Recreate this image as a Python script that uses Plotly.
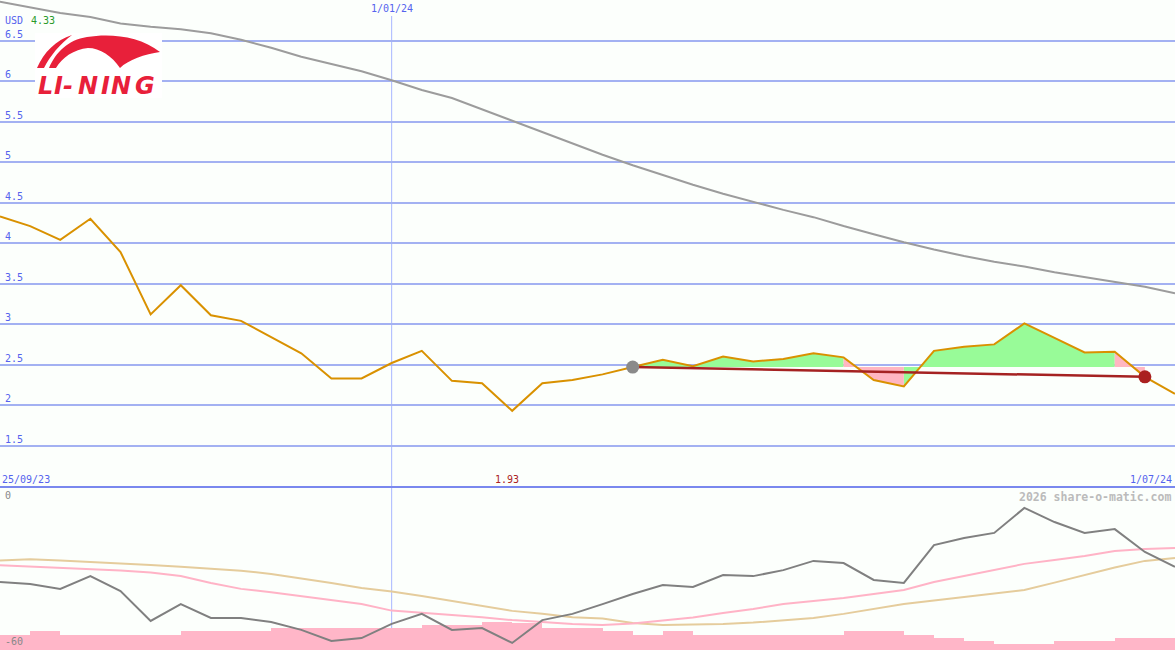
import plotly.graph_objects as go
import pandas as pd

# ---------------- data ----------------
dates = pd.date_range("2023-10-02", periods=40, freq="7D")

price = [4.33, 4.21, 4.04, 4.30, 3.89, 3.12, 3.48, 3.11, 3.04, 2.84,
         2.64, 2.33, 2.33, 2.52, 2.67, 2.30, 2.27, 1.93, 2.27, 2.31,
         2.38, 2.47, 2.56, 2.48, 2.60, 2.54, 2.57, 2.64, 2.59, 2.31,
         2.23, 2.67, 2.72, 2.75, 3.01, 2.83, 2.65, 2.66, 2.35, 2.14]

ma_long = [6.98, 6.91, 6.84, 6.79, 6.71, 6.67, 6.64, 6.59, 6.51, 6.41,
           6.30, 6.21, 6.12, 6.01, 5.89, 5.79, 5.65, 5.51, 5.37, 5.23,
           5.09, 4.96, 4.84, 4.72, 4.61, 4.51, 4.41, 4.32, 4.21, 4.11,
           4.01, 3.92, 3.84, 3.77, 3.71, 3.64, 3.58, 3.52, 3.46, 3.38]

osc = [-35.0, -35.7, -37.5, -32.8, -38.3, -49.3, -43.1, -48.2, -48.2, -49.7,
       -52.6, -56.7, -55.6, -50.4, -46.7, -52.6, -51.9, -57.4, -49.0, -46.7,
       -43.1, -39.4, -36.1, -36.8, -32.4, -32.8, -30.6, -27.2, -28.0, -34.2,
       -35.3, -21.4, -18.8, -16.9, -7.7, -12.9, -16.9, -15.5, -23.9, -29.4]

osc_fast = [-28.8, -29.3, -29.8, -30.2, -30.7, -31.5, -32.8, -35.3, -37.5, -38.7,
            -40.1, -41.6, -43.1, -45.5, -46.4, -47.1, -47.9, -49.0, -49.7, -50.4,
            -50.8, -50.2, -49.1, -48.0, -46.4, -44.9, -43.1, -42.0, -40.9, -39.4,
            -37.9, -35.0, -32.8, -30.6, -28.3, -26.9, -25.4, -23.6, -22.8, -22.5]

osc_slow = [-27.1, -26.6, -27.1, -27.6, -28.2, -28.7, -29.4, -30.0, -30.8, -32.0,
            -33.6, -35.3, -37.2, -38.5, -40.1, -42.0, -43.8, -45.6, -46.7, -47.9,
            -48.4, -50.1, -50.8, -50.6, -50.4, -49.9, -49.1, -48.2, -46.7, -44.9,
            -43.1, -41.8, -40.5, -39.2, -37.9, -35.2, -32.4, -29.6, -27.2, -26.1]

bar_top = [-54.5, -52.9, -54.5, -54.5, -54.5, -54.5, -52.9, -52.9, -52.9, -51.9,
           -52.0, -52.0, -52.0, -52.0, -50.8, -50.8, -49.6, -50.2, -51.8, -51.8,
           -53.0, -54.5, -53.0, -54.5, -54.5, -54.5, -54.5, -54.5, -53.0, -53.0,
           -54.5, -55.7, -56.7, -57.8, -57.8, -56.7, -56.7, -55.7, -55.7]

main_ticks = [1.5, 2, 2.5, 3, 3.5, 4, 4.5, 5, 5.5, 6, 6.5]
sub_ticks = [0, -60]
trend_start, trend_end = 21, 38
mid_date_label = "2024-01-01"
date_labels = ["25/09/23", "1/01/24", "1/07/24"]

# ---------------- styles ----------------
W, H = 1175, 650
BG = "#fcfffc"
BLUE_TXT = "#5563ee"
GRID = "#a3b1f2"
FONT = "DejaVu Sans Mono"
split = 163 / H  # paper y of panel separator

fig = go.Figure()

# --- fills relative to the starting level ---
base = price[trend_start]
runs = []
for i in range(trend_start, trend_end):
    c = "g" if price[i + 1] >= base else "p"
    if runs and runs[-1][0] == c:
        runs[-1][2] = i + 1
    else:
        runs.append([c, i, i + 1])
for col, fcol in (("g", "#98fb98"), ("p", "#ffb6c1")):
    xs, ys = [], []
    for c, a, b in runs:
        if c != col:
            continue
        xs += [dates[a]] + list(dates[a:b + 1]) + [dates[b], None]
        ys += [base] + price[a:b + 1] + [base, None]
    if xs:
        fig.add_trace(go.Scatter(x=xs, y=ys, mode="lines", fill="toself",
                                 fillcolor=fcol, line=dict(width=0),
                                 hoverinfo="skip", showlegend=False))

fig.add_trace(go.Scatter(x=dates, y=ma_long, mode="lines",
                         line=dict(color="#9c9c9c", width=2), showlegend=False))
fig.add_trace(go.Scatter(x=dates, y=price, mode="lines",
                         line=dict(color="#d99100", width=2), showlegend=False))
fig.add_trace(go.Scatter(x=[dates[trend_start], dates[trend_end]],
                         y=[price[trend_start], price[trend_end]], mode="lines",
                         line=dict(color="#a52222", width=2.5), showlegend=False))
fig.add_trace(go.Scatter(x=[dates[trend_start]], y=[price[trend_start]], mode="markers",
                         marker=dict(color="#8a8a8a", size=13), showlegend=False))
fig.add_trace(go.Scatter(x=[dates[trend_end]], y=[price[trend_end]], mode="markers",
                         marker=dict(color="#aa2020", size=13), showlegend=False))

# --- lower panel ---
fig.add_trace(go.Bar(x=dates[:-1], y=[t - (-60) for t in bar_top], base=-60,
                     width=7 * 86400000, offset=0, yaxis="y2",
                     marker=dict(color="#ffb6c8", line=dict(width=0)),
                     showlegend=False))
fig.add_trace(go.Scatter(x=dates, y=osc_slow, mode="lines", yaxis="y2",
                         line=dict(color="#e5cc9c", width=2), showlegend=False))
fig.add_trace(go.Scatter(x=dates, y=osc_fast, mode="lines", yaxis="y2",
                         line=dict(color="#ffb3c6", width=2), showlegend=False))
fig.add_trace(go.Scatter(x=dates, y=osc, mode="lines", yaxis="y2",
                         line=dict(color="#808080", width=2), showlegend=False))

# ---------------- annotations ----------------
ann = []
for v in main_ticks:
    ann.append(dict(x=0, xref="paper", y=v, yref="y", xanchor="left", yanchor="bottom",
                    xshift=3, yshift=-1, text=f"{v:g}", showarrow=False,
                    font=dict(family=FONT, size=10, color=BLUE_TXT)))
ann.append(dict(x=0, xref="paper", y=1, yref="paper", xanchor="left", yanchor="top",
                xshift=3, yshift=-13, text="USD", showarrow=False,
                font=dict(family=FONT, size=10, color=BLUE_TXT)))
ann.append(dict(x=0, xref="paper", y=1, yref="paper", xanchor="left", yanchor="top",
                xshift=29, yshift=-13, text=f"{price[0]:.2f}", showarrow=False,
                font=dict(family=FONT, size=10, color="#2a9a2a")))
ann.append(dict(x=mid_date_label, xref="x", y=1, yref="paper", xanchor="center",
                yanchor="top", yshift=-1, text=date_labels[1], showarrow=False,
                font=dict(family=FONT, size=10, color=BLUE_TXT)))
ann.append(dict(x=0, xref="paper", y=split, yref="paper", xanchor="left",
                yanchor="bottom", xshift=0, yshift=0, text=date_labels[0], showarrow=False,
                font=dict(family=FONT, size=10, color=BLUE_TXT)))
ann.append(dict(x=1, xref="paper", y=split, yref="paper", xanchor="right",
                yanchor="bottom", xshift=-1, yshift=0, text=date_labels[2], showarrow=False,
                font=dict(family=FONT, size=10, color=BLUE_TXT)))
imin = price.index(min(price))
ann.append(dict(x=dates[imin], xref="x", y=split, yref="paper", xanchor="center",
                yanchor="bottom", xshift=-5, yshift=0, text=f"{price[imin]:.2f}",
                showarrow=False, font=dict(family=FONT, size=10, color="#aa2222")))
ann.append(dict(x=1, xref="paper", y=split, yref="paper", xanchor="right",
                yanchor="top", xshift=-2, yshift=-1, text="<b>2026 share-o-matic.com</b>",
                showarrow=False, font=dict(family=FONT, size=11.5, color="#bbbbbb")))
ann.append(dict(x=0, xref="paper", y=split, yref="paper", xanchor="left",
                yanchor="top", xshift=3, yshift=-1, text=str(sub_ticks[0]), showarrow=False,
                font=dict(family=FONT, size=10, color="#888888")))
ann.append(dict(x=0, xref="paper", y=0, yref="paper", xanchor="left",
                yanchor="bottom", xshift=3, yshift=1, text=str(sub_ticks[1]), showarrow=False,
                font=dict(family=FONT, size=10, color="#888888")))

# logo letters
logo_letters = [("L", 45), ("I", 58), ("-", 68), ("N", 88), ("I", 105), ("N", 121), ("G", 145)]
for ch, cx in logo_letters:
    ann.append(dict(x=cx / W, xref="paper", y=1 - 86 / H, yref="paper",
                    xanchor="center", yanchor="middle", text=f"<b><i>{ch}</i></b>",
                    showarrow=False,
                    font=dict(family="DejaVu Sans", size=24, color="#e8203a")))


def pth(cmds):
    out = []
    for c in cmds:
        if isinstance(c, str):
            out.append(c)
        else:
            x, y = c
            out.append(f"{x / W:.5f},{1 - y / H:.5f}")
    return " ".join(out)


sliver = pth(["M", (37, 68), "C", (44, 52), (56, 40), (72, 35),
              "C", (60, 44), (50, 56), (44, 68), "Z"])
body = pth(["M", (49, 68), "C", (56, 52), (68, 40), (87, 37),
            "C", (110, 33), (140, 36), (160, 52),
            "C", (145, 54), (128, 60), (120, 68),
            "C", (112, 56), (100, 48), (88, 48),
            "C", (74, 49), (62, 58), (56, 68), "Z"])

shapes = [
    dict(type="line", xref="x", yref="paper", x0=mid_date_label, x1=mid_date_label,
         y0=0, y1=1 - 16 / H, line=dict(color="#a8b6ff", width=1), layer="below"),
    dict(type="line", xref="paper", yref="paper", x0=0, x1=1, y0=split, y1=split,
         line=dict(color="#7a88ee", width=2), layer="above"),
    dict(type="rect", xref="paper", yref="paper", x0=35 / W, x1=162 / W,
         y0=1 - 98 / H, y1=1 - 33 / H, fillcolor="white", line=dict(width=0),
         layer="above"),
    dict(type="path", xref="paper", yref="paper", path=sliver, fillcolor="#e8203a",
         line=dict(width=0), layer="above"),
    dict(type="path", xref="paper", yref="paper", path=body, fillcolor="#e8203a",
         line=dict(width=0), layer="above"),
]

fig.update_layout(
    width=W, height=H, margin=dict(l=0, r=0, t=0, b=0),
    paper_bgcolor=BG, plot_bgcolor=BG, showlegend=False, bargap=0,
    xaxis=dict(range=[dates[0], dates[-1]], showgrid=False, zeroline=False,
               showticklabels=False, ticks="", showline=False),
    yaxis=dict(domain=[split, 1], range=[0.99, 7.0], tickvals=main_ticks,
               showgrid=True, gridcolor=GRID, gridwidth=2, zeroline=False,
               showticklabels=False, ticks=""),
    yaxis2=dict(domain=[0, split], range=[-60, 0], showgrid=False, zeroline=False,
                showticklabels=False, ticks="", anchor="x"),
    annotations=ann, shapes=shapes,
)

fig.write_html("out.html", config={"displayModeBar": False},
               post_script="document.body.style.margin='0';document.body.style.overflow='hidden';")
